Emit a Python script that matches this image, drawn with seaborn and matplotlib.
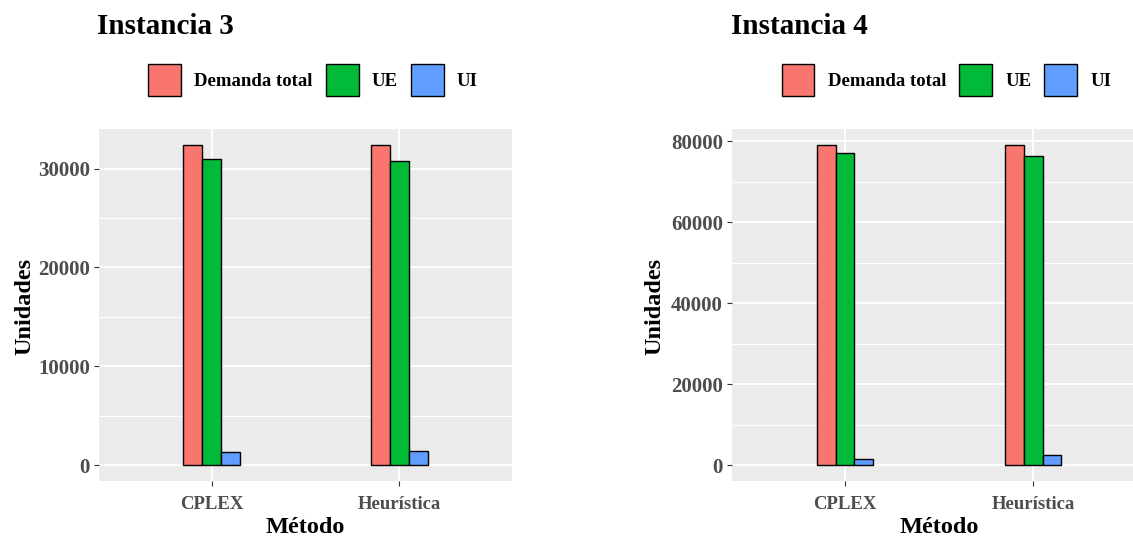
import matplotlib
matplotlib.use("Agg")
import matplotlib.pyplot as plt
import seaborn as sns
import pandas as pd
from matplotlib.ticker import MultipleLocator

# ---- data ----
metodos = ["CPLEX", "Heurística"]
series = ["Demanda total", "UE", "UI"]
inst3_demanda = [32360, 32360]
inst3_ue = [30940, 30780]
inst3_ui = [1290, 1420]
inst4_demanda = [79030, 79030]
inst4_ue = [77150, 76300]
inst4_ui = [1540, 2600]
titles = ["Instancia 3", "Instancia 4"]
colors = ["#F8766D", "#00BA38", "#619CFF"]


def make_df(dem, ue, ui):
    rows = []
    for vals, s in zip([dem, ue, ui], series):
        for m, v in zip(metodos, vals):
            rows.append({"Método": m, "serie": s, "Unidades": v})
    return pd.DataFrame(rows)


dfs = [make_df(inst3_demanda, inst3_ue, inst3_ui),
       make_df(inst4_demanda, inst4_ue, inst4_ui)]

sns.set_theme(style="darkgrid")
plt.rcParams["font.family"] = ["Liberation Serif", "DejaVu Serif"]
plt.rcParams["font.weight"] = "bold"
plt.rcParams["text.color"] = "black"
plt.rcParams["axes.labelcolor"] = "black"

W, H = 1133, 537
fig = plt.figure(figsize=(W / 100, H / 100), dpi=100)

panels = [(99, 129.3, 512, 481), (732, 129.3, 1146, 481)]
ylims = [(-1618, 33978), (-3950, 82980)]
major = [10000, 20000]
legend_cx = [313, 946.5]
title_x = [97, 731]
ylabel_x = [25, 655]

for i in range(2):
    x0, y0, x1, y1 = panels[i]
    ax = fig.add_axes([x0 / W, 1 - y1 / H, (x1 - x0) / W, (y1 - y0) / H])
    ax.set_facecolor("#EBEBEB")
    sns.barplot(data=dfs[i], x="Método", y="Unidades", hue="serie",
                hue_order=series, order=metodos, palette=colors,
                width=0.3, gap=0, edgecolor="black", linewidth=1.0,
                saturation=1, ax=ax, legend=True)
    ax.set_xlim(-0.6, 1.6)
    ax.set_ylim(*ylims[i])
    ax.yaxis.set_major_locator(MultipleLocator(major[i]))
    ax.yaxis.set_minor_locator(MultipleLocator(major[i] / 2))
    ax.grid(True, which="major", color="white", linewidth=1.3)
    ax.grid(True, which="minor", axis="y", color="white", linewidth=0.7)
    ax.set_axisbelow(True)
    for sp in ax.spines.values():
        sp.set_visible(False)
    ax.tick_params(axis="both", which="major", length=3.5, width=0.8,
                   color="#333333", labelcolor="#4D4D4D",
                   left=True, bottom=True)
    ax.tick_params(axis="y", which="major", labelsize=15, pad=3)
    ax.tick_params(axis="x", which="major", labelsize=13.5, pad=7)
    ax.tick_params(axis="y", which="minor", length=0)
    for lab in ax.get_xticklabels() + ax.get_yticklabels():
        lab.set_fontweight("bold")
    ax.set_xlabel("Método", fontsize=17.5, fontweight="bold", color="black",
                  labelpad=3)
    ax.set_ylabel("", fontsize=16)
    fig.text(ylabel_x[i] / W, 1 - 306 / H, "Unidades", rotation=90,
             ha="center", va="center", fontsize=17.5, fontweight="bold")
    fig.text(title_x[i] / W, 1 - 27 / H, titles[i], ha="left", va="center",
             fontsize=21, fontweight="bold")
    handles, labels = ax.get_legend_handles_labels()
    ax.get_legend().remove()
    fig.legend(handles, labels, loc="center",
               bbox_to_anchor=(legend_cx[i] / W, 1 - 80 / H),
               ncol=3, frameon=False,
               prop={"weight": "bold", "size": 13.5},
               handlelength=1.75, handleheight=2.3, handletextpad=0.7,
               columnspacing=0.7, borderaxespad=0, borderpad=0)

fig.savefig("out.png", dpi=100)
